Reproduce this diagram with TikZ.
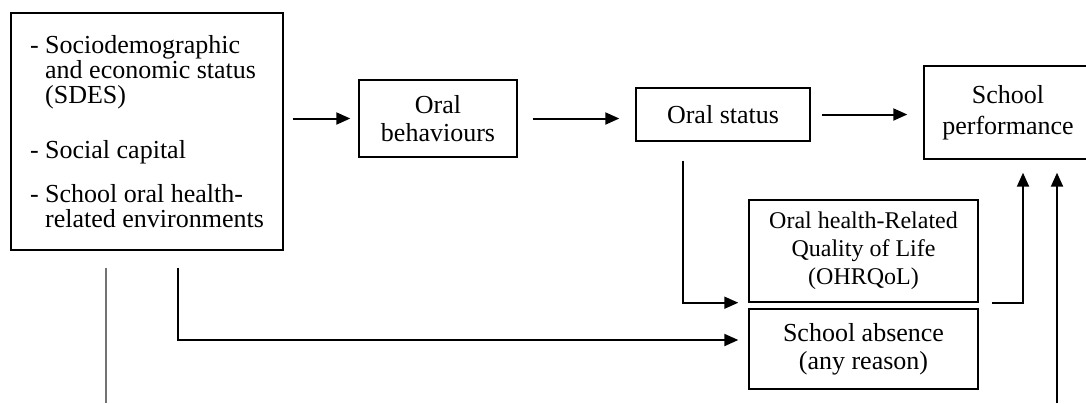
\documentclass[tikz,border=0pt]{standalone}
\usepackage{fontspec}
\setmainfont{Liberation Serif}
\usepackage{tikz}
\usetikzlibrary{arrows.meta,positioning,calc}

\begin{document}
\begin{tikzpicture}[
  x=0.5pt, y=-0.5pt,
  factor/.style={draw=black, line width=0.7pt, align=center, inner sep=0pt,
    font=\fontsize{13pt}{14pt}\selectfont},
  qol/.style={factor, font=\fontsize{12pt}{14pt}\selectfont},
  flow/.style={-{Triangle[length=7pt,width=6pt]}, line width=1pt, draw=black},
  link/.style={line width=0.7pt, draw=black!55}
]
\useasboundingbox (0,0) rectangle (1086,403);
\clip (0,0) rectangle (1086,403);

\node[factor, minimum width=136pt, minimum height=118.5pt, align=left,
  font=\fontsize{13pt}{12.5pt}\selectfont] (L) at (147,131.5)
  {- Sociodemographic\\\phantom{- }and economic status\\\phantom{- }(SDES)\\[15pt]
   - Social capital\\[9.5pt]
   - School oral health-\\\phantom{- }related environments};
\node[factor, minimum width=79pt, minimum height=38.5pt] (OB) at (438,118.5) {Oral\\behaviours};
\node[factor, minimum width=87pt, minimum height=26.5pt] (OS) at (723,114.5) {Oral status};
\node[factor, minimum width=84pt, minimum height=46.5pt] (SP) at (1008,112.5)
  {\raisebox{3pt}{\parbox{80pt}{\centering School\\[1.5pt]performance}}};
\node[qol, minimum width=114.5pt, minimum height=51pt] (OQ) at (863.5,251) {Oral health-Related\\Quality of Life\\(OHRQoL)};
\node[factor, minimum width=114.5pt, minimum height=40pt] (SA) at (863.5,349) {School absence\\(any reason)};

\coordinate (out1) at (106,403);
\coordinate (in2) at (1057,403);

% main chain
\draw[flow, shorten <=4.5pt, shorten >=4pt] (OB.west -| L.east) -- (OB.west);
\draw[flow, shorten <=7.5pt, shorten >=8pt] (OB.east) -- (OB.east -| OS.west);
\draw[flow, shorten <=5.5pt, shorten >=8pt] (OS.east) -- (OS.east -| SP.west);

% side paths
\draw[flow, line width=0.8pt, shorten <=9.5pt, shorten >=5pt] ([xshift=-20pt]OS.south) |- (OQ.south west);
\draw[flow, shorten <=6.5pt, shorten >=6.5pt] (OQ.south east) -| ([xshift=7.5pt]SP.south);
\draw[flow, shorten >=6.5pt] (in2) -- (in2 |- SP.south);
\draw[flow, shorten <=8.5pt, shorten >=5pt] ([xshift=15.5pt]L.south) |- ([yshift=4.5pt]SA.west);
\draw[link, shorten <=8.5pt] (out1 |- L.south) -- (out1);
\end{tikzpicture}
\end{document}
